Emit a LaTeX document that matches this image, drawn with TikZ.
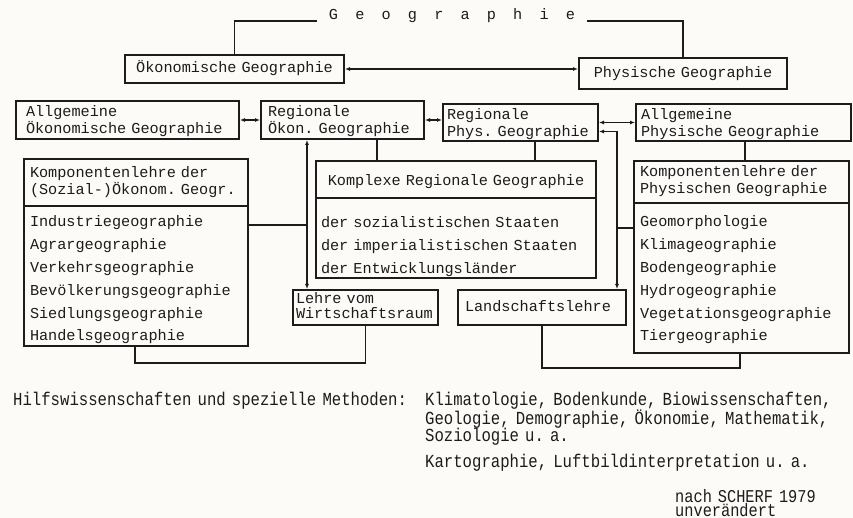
\documentclass[tikz,border=0pt]{standalone}
\usepackage{fontspec}
\usetikzlibrary{arrows.meta}
\newfontfamily\typew[WordSpace={1,0,0}]{Liberation Mono}
\newfontfamily\typecond[FakeStretch=0.85,WordSpace={1,0,0}]{Liberation Mono}
\DeclareRobustCommand\boxfont{\typew\fontsize{15.2}{17}\selectfont\fontdimen2\font=0.6em\spaceskip=0.6em\relax}
\DeclareRobustCommand\listfont{\typew\fontsize{15.2}{22.8}\selectfont\fontdimen2\font=0.6em\spaceskip=0.6em\relax}
\DeclareRobustCommand\hintfont{\typecond\fontsize{18.4}{17.5}\selectfont\fontdimen2\font=0.51em\spaceskip=0.51em\relax}
\DeclareRobustCommand\notefont{\typecond\fontsize{18}{14}\selectfont\fontdimen2\font=0.51em\spaceskip=0.51em\relax}
\definecolor{ink}{RGB}{28,28,28}
\definecolor{paper}{RGB}{252,251,248}

\begin{document}
\frenchspacing
\lineskiplimit=-20pt
\begin{tikzpicture}[x=1pt,y=-1pt,>={Latex[length=5pt,width=4pt]}]
\tikzstyle{every node}+=[inner sep=0pt, text=ink]
\tikzstyle{box}=[draw=ink, line width=2pt, anchor=north west, align=left, font=\boxfont]
\tikzstyle{list}=[box, font=\listfont]
\tikzstyle{link}=[draw=ink, line width=1.1pt]
\tikzstyle{hint}=[anchor=base west, align=left, text width=420pt, font=\hintfont]
\useasboundingbox (0,0) rectangle (853,518);
\fill [paper] (0,0) rectangle (853,518);
\node [inner xsep=12pt, font=\boxfont] (geo) at (452,16) {\spaceskip=17.2pt G e o g r a p h i e};
\node [box, align=center, text width=205pt, inner xsep=7pt, text height=18pt, text depth=10pt] (oek) at (124,54) {Ökonomische Geographie};
\node [box, align=center, text width=196pt, inner xsep=6pt, text height=19.5pt, text depth=11.5pt] (phys) at (578,57) {Physische Geographie};
\node [box, text width=203pt, inner xsep=10pt, text height=16pt, text depth=22pt] (aoek) at (15,100) {Allgemeine\\Ökonomische Geographie};
\node [box, text width=149pt, inner xsep=7pt, text height=16pt, text depth=22pt] (rok) at (260,100) {Regionale\\Ökon. Geographie};
\node [box, text width=147pt, inner xsep=4pt, text height=16pt, text depth=21pt] (rph) at (442,103) {Regionale\\Phys. Geographie};
\node [box, text width=205pt, inner xsep=5pt, text height=16pt, text depth=21pt] (aph) at (635,103) {Allgemeine\\Physische Geographie};
\node [box, text width=212pt, inner xsep=6pt, text height=19pt, text depth=28pt] (klo) at (23,158) {Komponentenlehre der\\(Sozial-)Ökonom. Geogr.};
\node [list, text width=212pt, inner xsep=6pt, text height=21pt, text depth=119pt] (klol) at (23,205) {Industriegeographie\\Agrargeographie\\Verkehrsgeographie\\Bevölkerungsgeographie\\Siedlungsgeographie\\Handelsgeographie};
\node [box, align=center, text width=270pt, inner xsep=5pt, text height=25pt, text depth=12pt] (kreg) at (315,160) {Komplexe Regionale Geographie};
\node [list, text width=270pt, inner xsep=5pt, text height=30pt, text depth=50pt] (kregl) at (315,197) {der sozialistischen Staaten\\der imperialistischen Staaten\\der Entwicklungsländer};
\node [box, text width=203pt, inner xsep=6pt, text height=16pt, text depth=26pt] (kph) at (633,160) {Komponentenlehre der\\Physischen Geographie};
\node [list, text width=203pt, inner xsep=6pt, text height=24pt, text depth=126pt] (kphl) at (633,202) {Geomorphologie\\Klimageographie\\Bodengeographie\\Hydrogeographie\\Vegetationsgeographie\\Tiergeographie};
\node [box, text width=139pt, inner xsep=3pt, text height=13pt, text depth=22pt] (lehre) at (292,289) {Lehre vom\\[-1pt]Wirtschaftsraum};
\node [box, text width=154pt, inner xsep=7pt, text height=21pt, text depth=14pt] (land) at (457,289) {Landschaftslehre};
\draw [link] ([yshift=-5pt]geo.west) -| (oek.north);
\draw [link] ([yshift=-5pt]geo.east) -| (phys.north);
\draw [link,<->] (oek.east) -- (oek.east -| phys.west);
\draw [link,<->] (aoek.east) -- (aoek.east -| rok.west);
\draw [link,<->] (rok.east) -- (rok.east -| rph.west);
\draw [link,<->] (rph.east) -- (rph.east -| aph.west);
\coordinate (vk1) at (377,150);
\coordinate (vk2) at (535,150);
\coordinate (vk3) at (745,150);
\draw [link] (vk1 |- rok.south) -- (vk1 |- kreg.north);
\draw [link] (vk2 |- rph.south) -- (vk2 |- kreg.north);
\draw [link] (vk3 |- aph.south) -- (vk3 |- kph.north);
\coordinate (jl) at (307,225);
\draw [link] (jl -| klol.east) -- (jl);
\draw [link,<->] (jl |- rok.south) -- (jl |- lehre.north);
\coordinate (jr) at (617,228);
\draw [link] (jr -| kphl.west) -- (jr);
\draw [link,->] (jr) |- ([yshift=-9pt]rph.east);
\draw [link,->] (jr) -- (jr |- land.north);
\coordinate (bl) at (135,363);
\draw [link] (bl |- klol.south) -- (bl) -| (lehre.south);
\coordinate (br) at (740,368);
\draw [link] (land.south) |- (br) -- (br |- kphl.south);
\node [hint] (hilf) at (13,405) {Hilfswissenschaften und spezielle Methoden:};
\node [hint] (hlist) at (425,405) {Klimatologie, Bodenkunde, Biowissenschaften,\\Geologie, Demographie, Ökonomie, Mathematik,\\Soziologie u. a.};
\node [hint] (karto) at (425,467) {Kartographie, Luftbildinterpretation u. a.};
\node [hint, text width=170pt, font=\notefont] (quelle) at (675,502) {nach SCHERF 1979\\unverändert};
\end{tikzpicture}
\end{document}
